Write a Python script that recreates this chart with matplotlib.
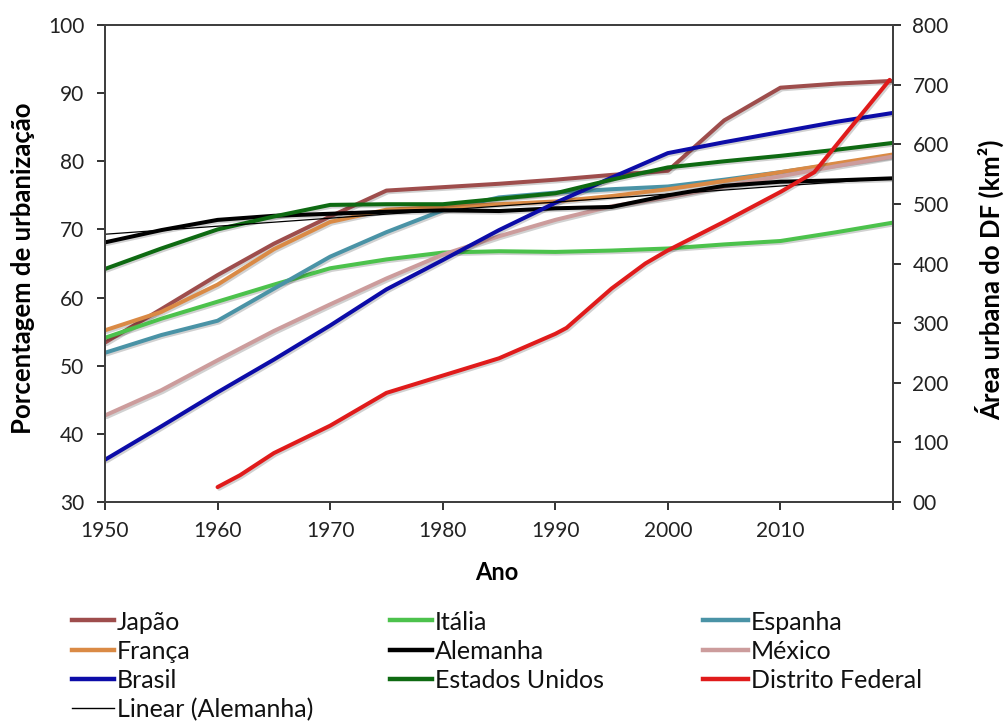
import numpy as np
import matplotlib
matplotlib.use('Agg')
import matplotlib.pyplot as plt
import matplotlib.patheffects as pe
from matplotlib.lines import Line2D

plt.rcParams['font.family'] = ['Lato', 'DejaVu Sans']

# urbanisation (%) every 5 years, 1950-2020
anos = [1950, 1955, 1960, 1965, 1970, 1975, 1980, 1985, 1990, 1995, 2000, 2005, 2010, 2015, 2020]
japao = [53.4, 58.3, 63.3, 67.9, 71.9, 75.7, 76.2, 76.7, 77.3, 78.0, 78.6, 86.0, 90.8, 91.4, 91.8]
italia = [54.1, 56.9, 59.4, 61.9, 64.3, 65.6, 66.6, 66.8, 66.7, 66.9, 67.2, 67.8, 68.3, 69.6, 71.0]
espanha = [51.9, 54.5, 56.6, 61.3, 66.0, 69.6, 72.8, 74.7, 75.4, 75.9, 76.3, 77.3, 78.4, 79.6, 80.8]
franca = [55.2, 57.9, 61.9, 67.1, 71.1, 72.9, 73.3, 73.7, 74.1, 74.9, 75.9, 77.1, 78.4, 79.7, 81.0]
alemanha = [68.1, 69.9, 71.4, 72.0, 72.3, 72.6, 72.8, 72.7, 73.1, 73.3, 75.0, 76.4, 77.0, 77.2, 77.5]
mexico = [42.7, 46.4, 50.8, 55.1, 59.0, 62.8, 66.3, 69.0, 71.4, 73.4, 74.7, 76.3, 77.8, 79.3, 80.7]
brasil = [36.2, 41.1, 46.1, 50.9, 55.9, 61.2, 65.5, 69.9, 73.9, 77.6, 81.2, 82.8, 84.3, 85.8, 87.1]
eua = [64.2, 67.2, 70.0, 71.9, 73.6, 73.7, 73.7, 74.5, 75.3, 77.3, 79.1, 80.0, 80.8, 81.7, 82.7]

# urban area of the Distrito Federal (km2)
anos_df = [1960, 1962, 1965, 1970, 1975, 1980, 1985, 1990, 1991, 1995, 1998, 2000, 2005, 2010, 2013, 2019.7]
area_df = [25, 45, 82, 128, 183, 212, 241, 282, 292, 358, 400, 422, 470, 520, 553, 708]

# Excel-style linear trendline on Alemanha
coef = np.polyfit(anos, alemanha, 1)
tend = np.polyval(coef, [1950, 2020])

cores = {
    'Japão': '#9E4D4C', 'Itália': '#4CC24C', 'Espanha': '#4A93A6',
    'França': '#DA8A45', 'Alemanha': '#000000', 'México': '#CC9C9C',
    'Brasil': '#0C0CA8', 'Estados Unidos': '#0E6A12', 'Distrito Federal': '#E01B1B',
}
series = [('Japão', japao), ('Itália', italia), ('Espanha', espanha), ('França', franca),
          ('México', mexico), ('Alemanha', alemanha), ('Brasil', brasil), ('Estados Unidos', eua)]

W, H = 1006, 722
fig = plt.figure(figsize=(W / 100, H / 100), dpi=100)
ax = fig.add_axes([105 / W, 1 - 502 / H, 788 / W, 477 / H])
ax2 = ax.twinx()

shadow = [pe.SimpleLineShadow(offset=(1.2, -1.2), alpha=0.18), pe.Normal()]
lw = 2.9
for nome, vals in series:
    ax.plot(anos, vals, color=cores[nome], lw=lw, solid_capstyle='round', path_effects=shadow)
ax.plot([1950, 2020], tend, color='black', lw=0.9)
ax2.plot(anos_df, area_df, color=cores['Distrito Federal'], lw=lw, solid_capstyle='round', path_effects=shadow)

ax.set_xlim(1950, 2020)
ax.set_ylim(30, 100)
ax2.set_ylim(0, 800)
ax.set_xticks(range(1950, 2021, 10))
ax.set_xticklabels([str(a) for a in range(1950, 2011, 10)] + [''])
ax.set_yticks(range(30, 101, 10))
ax2.set_yticks(range(0, 801, 100))
ax2.set_yticklabels(['00'] + [str(v) for v in range(100, 801, 100)])

for a in (ax, ax2):
    a.tick_params(direction='out', length=6, width=1.3, labelsize=15, colors='#222222')
    for s in a.spines.values():
        s.set_color('#404040')
        s.set_linewidth(1.4)
ax.tick_params(axis='x', pad=8)
ax.tick_params(axis='y', pad=9)
ax2.tick_params(axis='y', pad=8)

# axis titles placed in pixels to match the reference
fig.text(497 / W, 1 - 573 / H, 'Ano', fontsize=17, fontweight='bold', ha='center', va='center')
fig.text(23 / W, 1 - 268 / H, 'Porcentagem de urbanização', fontsize=18.5, fontweight='bold',
         rotation=90, ha='center', va='center')
fig.text(990 / W, 1 - 280 / H, 'Área urbana do DF (km²)', fontsize=18.5, fontweight='bold',
         rotation=90, ha='center', va='center')

# legend drawn by hand: three columns, rows in pixel positions
linhas_leg = [620, 649.5, 679, 708]
colunas = [
    (72, 114, 117, [('Japão', 'Japão', 3.2), ('França', 'França', 3.2), ('Brasil', 'Brasil', 3.2),
                    ('Linear (Alemanha)', 'Alemanha', 1.0)]),
    (390, 432, 435, [('Itália', 'Itália', 3.2), ('Alemanha', 'Alemanha', 3.2),
                     ('Estados Unidos', 'Estados Unidos', 3.2)]),
    (703, 748, 751, [('Espanha', 'Espanha', 3.2), ('México', 'México', 3.2),
                     ('Distrito Federal', 'Distrito Federal', 3.2)]),
]
for x0, x1, xt, itens in colunas:
    for (rotulo, cor, esp), yp in zip(itens, linhas_leg):
        yf = 1 - yp / H
        fig.add_artist(Line2D([x0 / W, x1 / W], [yf, yf], color=cores[cor], lw=esp,
                              transform=fig.transFigure))
        fig.text(xt / W, yf, rotulo, fontsize=18, ha='left', va='center_baseline', color='#111111')

fig.savefig('out.png', dpi=100)
